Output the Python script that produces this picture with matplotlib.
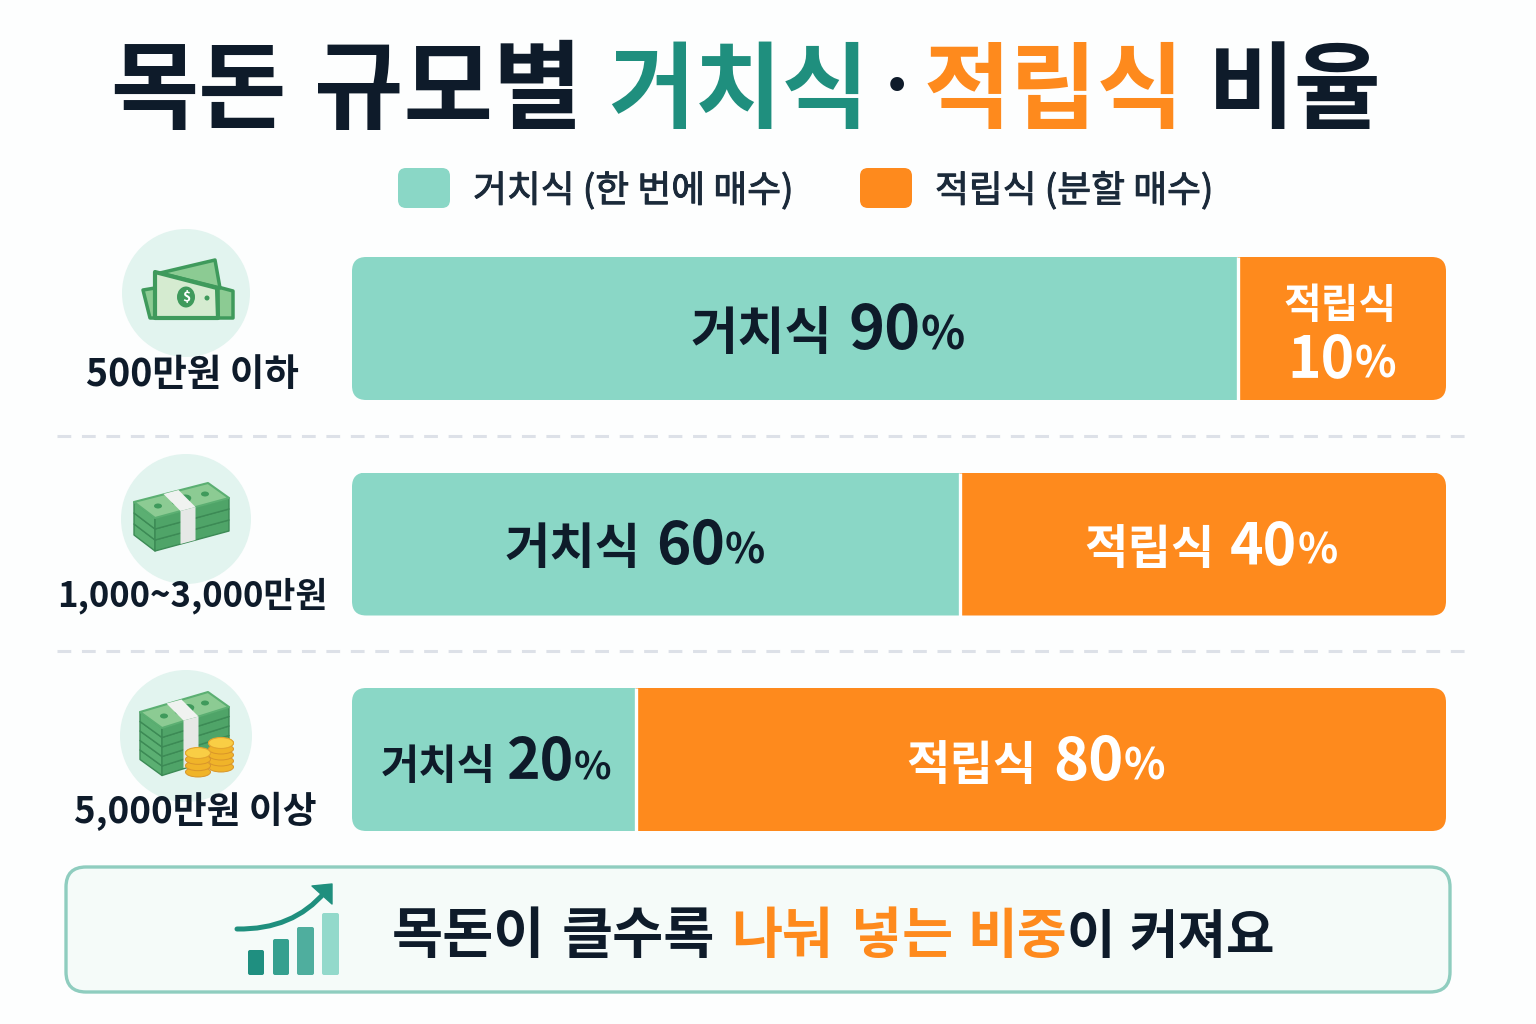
import matplotlib
matplotlib.use('Agg')
import matplotlib.pyplot as plt
import matplotlib.patheffects as pe
from matplotlib.patches import Circle, Ellipse, FancyBboxPatch, PathPatch, Polygon
from matplotlib.path import Path

plt.rcParams['font.family'] = ['Noto Sans CJK KR', 'DejaVu Sans']

# values
goal_labels = ['500만원 이하', '1,000~3,000만원', '5,000만원 이상']
lump_pct = [90, 60, 20]
dca_pct = [10, 40, 80]
# the picture does not draw the bars to scale, so these are the widths as seen
lump_drawn = [81.0, 55.6, 26.0]
dca_drawn = [19.0, 44.4, 74.0]

lump_name = '거치식'
dca_name = '적립식'
legend_labels = ['거치식 (한 번에 매수)', '적립식 (분할 매수)']

INK = '#0E1B2A'
TEAL = '#8AD7C6'
TEAL_DARK = '#1F8F7E'
ORANGE = '#FE8A1D'
BACK = '#FDFEFE'

W, H = 1536, 1024
fig = plt.figure(figsize=(W / 100, H / 100), dpi=100, facecolor=BACK)

# whole figure in pixels, y going down
ax = fig.add_axes([0, 0, 1, 1])
ax.set_xlim(0, W)
ax.set_ylim(H, 0)
ax.axis('off')
ax.set_zorder(2)


def write(x, y, s, size, color=INK, weight='bold', ha='left'):
    return ax.text(x, y, s, fontsize=size, color=color, fontweight=weight, ha=ha, va='baseline', zorder=8)


def write_runs(cx, y, runs, color):
    # pieces of text in different sizes, centred together on cx
    pieces = [write(0, y, s, size, color) for s, size, _ in runs]
    rend = fig.canvas.get_renderer()
    widths = [p.get_window_extent(rend).width for p in pieces]
    total = sum(widths) + sum(r[2] for r in runs)
    x = cx - total / 2
    for p, w, r in zip(pieces, widths, runs):
        p.set_x(x)
        x += w + r[2]


# title
write(110, 121, '목돈', 69)
write(314, 121, '규모별', 70)
write(608, 121, lump_name, 68, TEAL_DARK)
write(875, 112, '·', 54, INK)
write(924, 121, dca_name, 68, ORANGE)
write(1208, 121, '비율', 68)

# legend
for x0, col, lab, tx in zip([398, 860], [TEAL, ORANGE], legend_labels, [473, 935]):
    ax.add_patch(FancyBboxPatch((x0, 168), 52, 40, boxstyle='round,pad=0,rounding_size=8', fc=col, ec='none'))
    # no medium weight in the font, a thin stroke gets close
    t = write(tx, 202, lab, 26.5, '#1B2A3A', 'normal')
    t.set_path_effects([pe.withStroke(linewidth=0.7, foreground='#1B2A3A')])

# bars, x scale is percent of the bar width
bar_ax = fig.add_axes([352 / W, 0, (1446 - 352) / W, 1])
bar_ax.set_xlim(0, 100)
bar_ax.set_ylim(H, 0)
bar_ax.axis('off')
row_y = [328.5, 544, 759.5]
row_h = 143
for y, a, b in zip(row_y, lump_drawn, dca_drawn):
    clip = FancyBboxPatch((0, y - row_h / 2), 100, row_h, transform=bar_ax.transData,
                          boxstyle='round,pad=0,rounding_size=1.3', mutation_aspect=11, fc='none', ec='none')
    bar_ax.add_patch(clip)
    for bar in bar_ax.barh(y, a, height=row_h, color=TEAL):
        bar.set_clip_path(clip)
    for bar in bar_ax.barh(y, b, left=a, height=row_h, color=ORANGE):
        bar.set_clip_path(clip)
    bar_ax.plot([a, a], [y - row_h / 2, y + row_h / 2], color='white', lw=2.4, solid_capstyle='butt')

# bar labels
write_runs(828, 349, [(lump_name, 37, 16), (str(lump_pct[0]), 44, 0), ('%', 33, 0)], INK)
write(1340, 318, dca_name, 29.5, 'white', ha='center')
write_runs(1342, 377, [(str(dca_pct[0]), 41, 0), ('%', 31, 0)], 'white')
write_runs(635, 564, [(lump_name, 35.5, 15), (str(lump_pct[1]), 42, 0), ('%', 30, 0)], INK)
write_runs(1211, 564, [(dca_name, 34, 15), (str(dca_pct[1]), 41, 0), ('%', 30, 0)], 'white')
write_runs(496, 779, [(lump_name, 30, 11), (str(lump_pct[2]), 41, 0), ('%', 28, 0)], INK)
write_runs(1036, 780, [(dca_name, 34, 16), (str(dca_pct[2]), 43, 0), ('%', 31, 0)], 'white')

# dashed separators
for y in [436, 651]:
    ax.plot([57, 1468], [y, y], color='#DDE1E8', lw=2.2, dashes=(4.5, 3.5))

# goal icons
for cx, cy, r in [(186, 293, 64), (186, 519, 65), (186, 736, 66)]:
    ax.add_patch(Circle((cx, cy), r, fc='#E2F4EF', ec='none'))
for lab, cx, y, size in zip(goal_labels, [192, 192, 195], [386, 606, 823], [27, 25, 26.5]):
    write(cx, y, lab, size, ha='center')

G_DARK = '#3F9A5C'
G_MID = '#5BAF72'
G_LIGHT = '#8CCB93'
G_PALE = '#D5EBD0'


def poly(points, fc, ec=None, lw=0, z=3):
    ax.add_patch(Polygon(points, closed=True, fc=fc, ec=ec or fc, lw=lw, joinstyle='round', zorder=z))


# loose notes
poly([(143, 290), (155, 288), (155, 318), (150, 318)], G_LIGHT, G_DARK, 2.5)
poly([(218, 287), (233, 291), (233, 318), (218, 318)], G_LIGHT, G_DARK, 2.5)
poly([(160, 273), (215, 260), (220, 288)], G_LIGHT, G_DARK, 2.5)
poly([(155, 272), (217, 288), (218, 318), (155, 318)], G_PALE, G_DARK, 3, 4)
ax.add_patch(Ellipse((186, 297), 18, 21, fc=G_DARK, ec='none', zorder=5))
ax.text(186, 297, '$', fontsize=10, color='white', fontweight='bold', ha='center', va='center', zorder=6)
ax.add_patch(Circle((207, 298), 2.5, fc=G_DARK, ec='none', zorder=5))


def stack(left, back, right, front, layers, thick):
    for i in reversed(range(layers)):
        d = i * thick
        poly([(left[0], left[1] + d), (front[0], front[1] + d),
              (front[0], front[1] + d + thick), (left[0], left[1] + d + thick)], G_MID, '#3C8A55', 1)
        poly([(front[0], front[1] + d), (right[0], right[1] + d),
              (right[0], right[1] + d + thick), (front[0], front[1] + d + thick)], '#4FA468', '#3C8A55', 1)
    poly([left, back, right, front], G_LIGHT, G_MID, 1.5)
    mid = ((left[0] + right[0]) / 2, (left[1] + right[1]) / 2)
    ax.add_patch(Ellipse(mid, 20, 10, angle=-15, fc=G_DARK, ec='none', zorder=4))
    ax.add_patch(Ellipse((left[0] + 24, left[1] + 4), 8, 5, fc=G_DARK, ec='none', zorder=4))
    ax.add_patch(Ellipse((right[0] - 24, right[1] - 4), 8, 5, fc=G_DARK, ec='none', zorder=4))
    # paper band
    t = (mid[0] - 18, mid[1] - 6)
    poly([t, (t[0] + 15, t[1] - 4), (t[0] + 32, t[1] + 13), (t[0] + 17, t[1] + 17)], '#F0F2F0', z=5)
    poly([(t[0] + 17, t[1] + 17), (t[0] + 32, t[1] + 13),
          (t[0] + 32, t[1] + 13 + layers * thick), (t[0] + 17, t[1] + 17 + layers * thick)], '#E6E8E6', z=5)


stack((134, 502), (208, 483), (229, 498), (155, 518), 3, 11)
stack((140, 712), (208, 692), (229, 707), (162, 728), 5, 9.5)


def coins(cx, top, bottom, rx):
    n = int((bottom - top) / 5)
    for i in range(n + 1):
        y = bottom - i * (bottom - top) / n
        ax.add_patch(Ellipse((cx, y), rx * 2, 10, fc='#F0B429', ec='#D9952A', lw=0.7, zorder=7))
    ax.add_patch(Ellipse((cx, top), rx * 2, 11, fc='#F9CE45', ec='#E3A52E', lw=0.8, zorder=7))


coins(221, 743, 767, 12.5)
coins(198, 753, 772, 12.5)

# takeaway box
ax.add_patch(FancyBboxPatch((66, 867), 1384, 125, boxstyle='round,pad=0,rounding_size=20',
                            fc='#F5FBF9', ec='#8FCDBF', lw=2.4))
for x0, x1, top, col in zip([248, 273, 297, 322], [264, 289, 314, 339], [950, 939, 927, 913],
                            ['#1F8F80', '#35A08F', '#4FAE9E', '#93D9CB']):
    ax.add_patch(FancyBboxPatch((x0 + 2, top + 2), x1 - x0 - 4, 975 - top - 4, boxstyle='round,pad=2,rounding_size=2',
                                fc=col, ec='none'))
ax.add_patch(PathPatch(Path([(237, 929), (293, 930), (325, 892)], [Path.MOVETO, Path.CURVE3, Path.CURVE3]),
                       fc='none', ec=TEAL_DARK, lw=3.6, capstyle='round'))
poly([(312, 886), (332, 884), (332, 904)], TEAL_DARK, TEAL_DARK, 1)

write(392, 953, '목돈이', 40)
write(562, 953, '클수록', 40)
write(731, 953, '나눠', 40, ORANGE)
write(851, 953, '넣는', 40, ORANGE)
write(967, 953, '비중', 39, ORANGE)
write(1067, 953, '이', 38)
write(1129, 953, '커져요', 38)

fig.savefig('out.png', dpi=100, facecolor=BACK)
